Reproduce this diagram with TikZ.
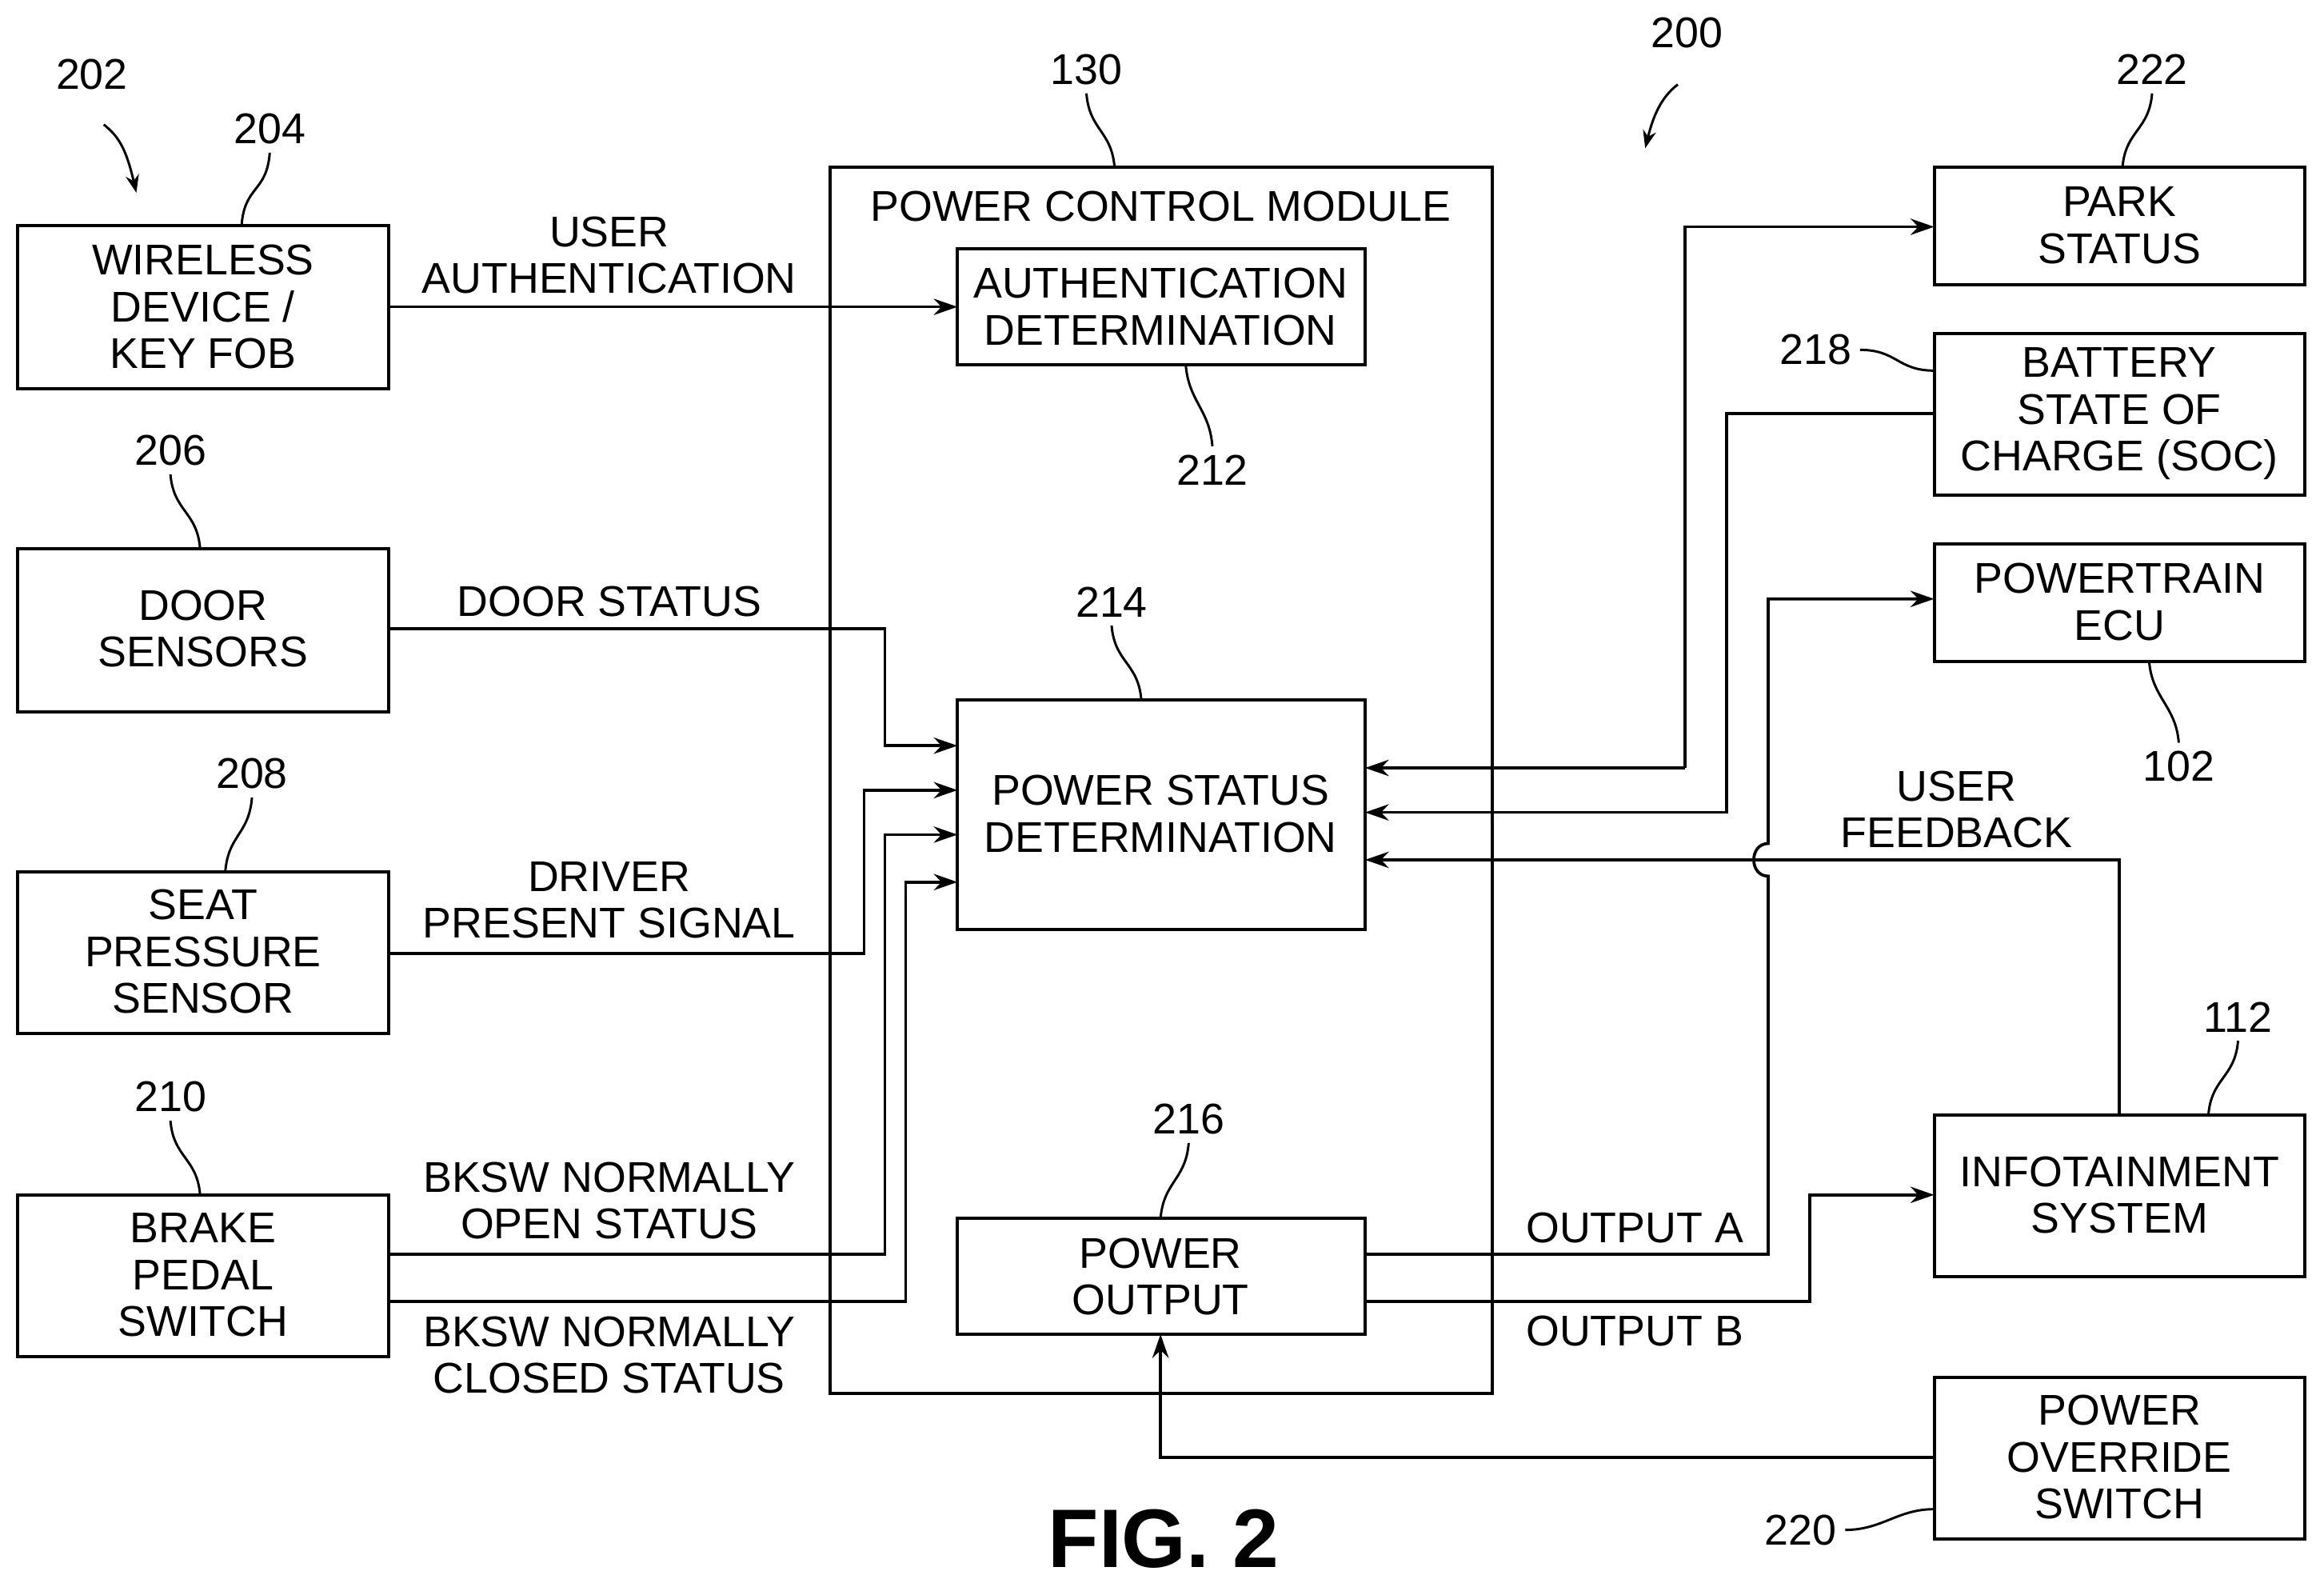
\documentclass[tikz,border=0pt]{standalone}
\usepackage{fontspec}
\setmainfont{Liberation Sans}
\usetikzlibrary{arrows.meta}
\begin{document}
\begin{tikzpicture}[x=1pt,y=-1pt,line width=2pt,
  box/.style={draw,line width=2.2pt},
  txt/.style={font=\fontsize{29}{31.5}\selectfont,align=center,inner sep=0pt},
  arr/.style={-{Stealth[length=16pt,width=11pt]}},
  lead/.style={line width=1.6pt}]
\useasboundingbox (0,0) rectangle (1568,1070);
% boxes
\draw[box] (12,152) rectangle (262,262); \node[txt] (wl) at (137,207) {WIRELESS\\DEVICE /\\KEY FOB};
\draw[box] (12,370) rectangle (262,480); \node[txt] (ds) at (137,424) {DOOR\\SENSORS};
\draw[box] (12,588) rectangle (262,697); \node[txt] (sp) at (137,642) {SEAT\\PRESSURE\\SENSOR};
\draw[box] (12,806) rectangle (262,915); \node[txt] (bp) at (137,860) {BRAKE\\PEDAL\\SWITCH};
\draw[box] (560,113) rectangle (1007,940); \node[txt] (pcm) at (783,139) {POWER CONTROL MODULE};
\draw[box] (646,168) rectangle (921,246); \node[txt] (au) at (783,207) {AUTHENTICATION\\DETERMINATION};
\draw[box] (646,472) rectangle (921,627); \node[txt] (ps) at (783,549) {POWER STATUS\\DETERMINATION};
\draw[box] (646,822) rectangle (921,900); \node[txt] (po) at (783,861) {POWER\\OUTPUT};
\draw[box] (1305,113) rectangle (1555,192); \node[txt] (pk) at (1430,152) {PARK\\STATUS};
\draw[box] (1305,225) rectangle (1555,334); \node[txt] (bt) at (1430,279) {BATTERY\\STATE OF\\CHARGE (SOC)};
\draw[box] (1305,367) rectangle (1555,446); \node[txt] (pt) at (1430,406) {POWERTRAIN\\ECU};
\draw[box] (1305,752) rectangle (1555,861); \node[txt] (inf) at (1430,806) {INFOTAINMENT\\SYSTEM};
\draw[box] (1305,929) rectangle (1555,1038); \node[txt] (ov) at (1430,983) {POWER\\OVERRIDE\\SWITCH};
% connectors
\draw[arr] (262,207) -- (646,207);
\node[txt] (l1) at (411,172) {USER\\AUTHENTICATION};
\draw[arr] (262,424) -- (597,424) -- (597,503) -- (646,503);
\node[txt] (l2) at (411,406) {DOOR STATUS};
\draw[arr] (262,643) -- (583,643) -- (583,533) -- (646,533);
\node[txt] (l3) at (411,607) {DRIVER\\PRESENT SIGNAL};
\draw[arr] (262,846) -- (597,846) -- (597,563) -- (646,563);
\node[txt] (l4) at (411,810) {BKSW NORMALLY\\OPEN STATUS};
\draw[arr] (262,878) -- (611,878) -- (611,595) -- (646,595);
\node[txt] (l5) at (411,914) {BKSW NORMALLY\\CLOSED STATUS};
\draw[arr] (1137,518) -- (1137,153) -- (1305,153);
\draw[arr] (1137,518) -- (921,518);
\draw[arr] (1305,279) -- (1165,279) -- (1165,548) -- (921,548);
\draw[arr] (921,846) -- (1193,846) -- (1193,591) .. controls (1180,591) and (1180,569) .. (1193,569) -- (1193,404) -- (1305,404);
\node[txt] (l6) at (1103,828) {OUTPUT A};
\draw[arr] (921,878) -- (1221,878) -- (1221,806) -- (1305,806);
\node[txt] (l7) at (1103,898) {OUTPUT B};
\draw[arr] (1430,752) -- (1430,580) -- (921,580);
\node[txt] (l8) at (1320,546) {USER\\FEEDBACK};
\draw[arr] (1305,983) -- (783,983) -- (783,900);
% reference numerals
\node[txt] (n202) at (62,50) {202};
\draw[lead,-{Stealth[length=12pt,width=9pt]}] (70,84) .. controls (80,92) and (85,100) .. (92,130);
\node[txt] (n204) at (182,87) {204};
\draw[lead] (182,103) .. controls (180,130) and (165,125) .. (163,152);
\node[txt] (n206) at (115,304) {206};
\draw[lead] (115,320) .. controls (117,345) and (133,345) .. (135,370);
\node[txt] (n208) at (170,522) {208};
\draw[lead] (170,538) .. controls (168,563) and (154,563) .. (152,588);
\node[txt] (n210) at (115,740) {210};
\draw[lead] (115,756) .. controls (117,781) and (133,781) .. (135,806);
\node[txt] (n130) at (733,47) {130};
\draw[lead] (733,63) .. controls (735,88) and (750,88) .. (752,113);
\node[txt] (n212) at (818,317) {212};
\draw[lead] (818,301) .. controls (816,276) and (802,271) .. (800,246);
\node[txt] (n214) at (750,406) {214};
\draw[lead] (750,422) .. controls (752,447) and (768,447) .. (770,472);
\node[txt] (n216) at (802,755) {216};
\draw[lead] (802,771) .. controls (800,796) and (785,797) .. (783,822);
\node[txt] (n200) at (1138,22) {200};
\draw[lead,-{Stealth[length=12pt,width=9pt]}] (1132,57) .. controls (1120,66) and (1115,80) .. (1110,100);
\node[txt] (n222) at (1452,47) {222};
\draw[lead] (1452,63) .. controls (1450,88) and (1434,88) .. (1432,113);
\node[txt] (n218) at (1225,236) {218};
\draw[lead] (1255,236) .. controls (1280,236) and (1280,250) .. (1305,250);
\node[txt] (n102) at (1470,517) {102};
\draw[lead] (1470,501) .. controls (1468,476) and (1452,471) .. (1450,446);
\node[txt] (n112) at (1510,686) {112};
\draw[lead] (1510,702) .. controls (1508,727) and (1492,727) .. (1490,752);
\node[txt] (n220) at (1215,1032) {220};
\draw[lead] (1245,1032) .. controls (1270,1032) and (1280,1018) .. (1305,1018);
\node[txt,font=\fontsize{56}{56}\selectfont\bfseries] (fig) at (785,1038) {FIG. 2};
\end{tikzpicture}
\end{document}
